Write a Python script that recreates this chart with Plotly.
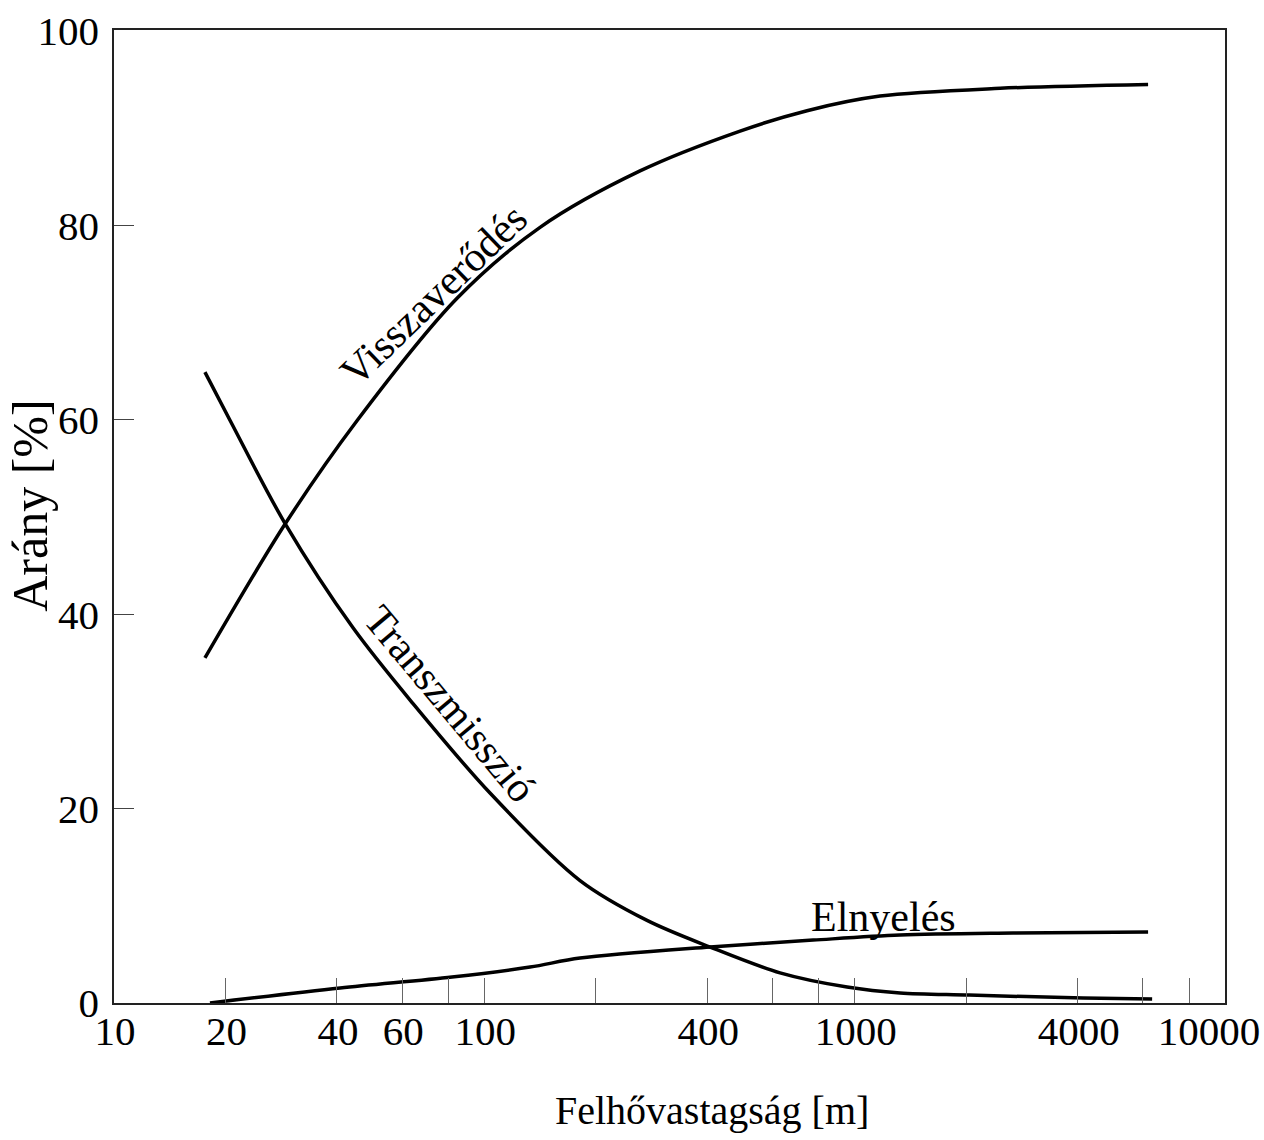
import math
import plotly.graph_objects as go

# Felhővastagság [m] és a megfelelő arányok [%]
refl_x = [17.6, 29.0, 45.3, 84.4, 141.4, 263.3, 490.4, 743.6, 1171, 2470, 6199]
refl_y = [35.5, 49.3, 59.9, 72.5, 79.8, 85.6, 89.7, 91.8, 93.3, 94.1, 94.5]

trans_x = [17.6, 20.6, 29.0, 44.2, 64.2, 103.6, 181.3, 275.0, 406.9, 628.7,
           953.9, 1326, 2037, 4139, 6357]
trans_y = [64.9, 59.9, 49.3, 38.6, 30.8, 21.6, 12.6, 8.5, 5.76, 3.1,
           1.64, 1.03, 0.82, 0.51, 0.41]

abs_x = [18.16, 40.8, 81.8, 132.9, 181.3, 406.9, 772.2, 1326, 2678, 6199]
abs_y = [0.0, 1.54, 2.67, 3.7, 4.62, 5.76, 6.47, 6.99, 7.19, 7.3]

x_ticks = [20, 40, 60, 80, 100, 200, 400, 600, 800, 1000, 2000, 4000, 6000, 8000]
x_label_vals = [10, 20, 40, 60, 100, 400, 1000, 4000]
y_ticks = [0, 20, 40, 60, 80, 100]

FONT = "Liberation Serif"
line = dict(color="black", width=3.5, shape="spline", smoothing=0.9)

fig = go.Figure()
for xs, ys in [(refl_x, refl_y), (trans_x, trans_y), (abs_x, abs_y)]:
    fig.add_trace(go.Scatter(x=xs, y=ys, mode="lines", line=line,
                             showlegend=False, hoverinfo="skip"))

fig.update_layout(
    width=1264, height=1140,
    margin=dict(l=114, r=39, t=30, b=137),
    paper_bgcolor="white", plot_bgcolor="white",
    font=dict(family=FONT, color="black", size=41),
    # tick marks only (inside), labels come from the overlay axes
    xaxis=dict(
        type="log", range=[1, 4], showgrid=False, zeroline=False, automargin=False,
        showline=True, mirror=True, linecolor="#222", linewidth=1.5,
        tickmode="array", tickvals=x_ticks, ticks="inside", ticklen=25,
        tickcolor="#666", tickwidth=1, showticklabels=False,
    ),
    xaxis2=dict(
        type="log", range=[1, 4], overlaying="x", side="bottom", automargin=False,
        showgrid=False, zeroline=False, showline=False,
        tickmode="array", tickvals=x_label_vals,
        ticktext=[str(v) for v in x_label_vals], ticks="",
        ticklabelshift=1,
        tickfont=dict(family=FONT, size=41),
    ),
    xaxis3=dict(
        type="log", range=[1, 4], overlaying="x", side="bottom", automargin=False,
        showgrid=False, zeroline=False, showline=False,
        tickmode="array", tickvals=[10000], ticktext=["10000"], ticks="",
        ticklabelshift=-16,
        tickfont=dict(family=FONT, size=41),
    ),
    yaxis=dict(
        range=[0, 100.1], showgrid=False, zeroline=False, automargin=False,
        showline=True, mirror=True, linecolor="#222", linewidth=1.5,
        tickmode="array", tickvals=y_ticks, ticks="inside", ticklen=20,
        tickcolor="#444", tickwidth=1, ticklabelstandoff=5,
        tickfont=dict(family=FONT, size=41),
    ),
)

# axis titles
fig.add_annotation(x=0.538, y=-0.11, xref="paper", yref="paper",
                   text="Felhővastagság [m]", showarrow=False,
                   xanchor="center", yanchor="middle",
                   font=dict(family=FONT, size=40, color="black"))
fig.add_annotation(x=-0.0756, y=0.511, xref="paper", yref="paper",
                   text="Arány [%]", showarrow=False, textangle=-90,
                   xanchor="center", yanchor="middle",
                   font=dict(family=FONT, size=50, color="black"))

# invisible traces to activate the label axes
fig.add_trace(go.Scatter(x=[10], y=[0], xaxis="x2", mode="markers",
                         marker=dict(opacity=0), showlegend=False, hoverinfo="skip"))
fig.add_trace(go.Scatter(x=[10], y=[0], xaxis="x3", mode="markers",
                         marker=dict(opacity=0), showlegend=False, hoverinfo="skip"))

# curve labels
labels = [
    ("Visszaverődés", 73.0, 72.8, -44),
    ("Transzmisszió", 81.0, 30.8, 50),
    ("Elnyelés", 1200, 8.8, 0),
]
for text, lx, ly, ang in labels:
    fig.add_annotation(x=math.log10(lx), y=ly, xref="x", yref="y",
                       text=text, textangle=ang, showarrow=False,
                       font=dict(family=FONT, size=42, color="black"))

fig.write_html("out.html")
